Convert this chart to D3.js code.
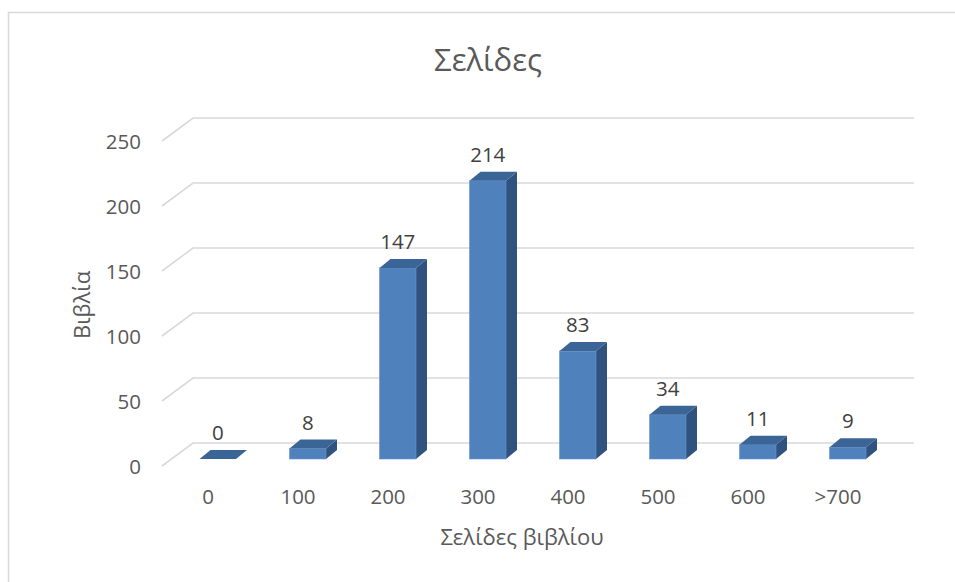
<!DOCTYPE html>
<html>
<head>
<meta charset="utf-8">
<script src="https://cdn.jsdelivr.net/npm/d3@7"></script>
<style>
  html, body { margin: 0; padding: 0; background: #fff; }
  svg { display: block; font-family: "Open Sans", "Noto Sans", sans-serif; }
</style>
</head>
<body>
<svg id="chart" width="955" height="582"></svg>
<script>
// Page counts of books, grouped in bins of 100 pages
const categories = ["0", "100", "200", "300", "400", "500", "600", ">700"];
const books = [0, 8, 147, 214, 83, 34, 11, 9];
const yTicks = [0, 50, 100, 150, 200, 250];

const chartTitle = "Σελίδες";
const xTitle = "Σελίδες βιβλίου";
const yTitle = "Βιβλία";

const svg = d3.select("#chart");

// Outer chart frame
svg.append("rect")
  .attr("x", 8.5).attr("y", 12.5)
  .attr("width", 1000).attr("height", 700)
  .attr("fill", "none").attr("stroke", "#d9d9d9").attr("stroke-width", 1.5);

// Floor levels: front edge of the floor, back wall, and the bars' base
const floorFront = 466, floorBack = 443, barBase = 459;
const wallLeft = 193, wallRight = 914, axisFront = 162;

const h = d3.scaleLinear().domain([0, 250]).range([0, 325]);
const x = d3.scaleBand().domain(categories).range([163, 883]).padding(0);

// Gridlines: slanted side segment + horizontal back-wall line
const grid = svg.append("g").attr("stroke", "#d9d9d9").attr("stroke-width", 1.6).attr("fill", "none");
yTicks.forEach(v => {
  grid.append("path")
    .attr("d", `M${axisFront},${floorFront - h(v)}L${wallLeft},${floorBack - h(v)}L${wallRight},${floorBack - h(v)}`);
});

// Y tick labels
svg.append("g").selectAll("text").data(yTicks).join("text")
  .attr("x", 141).attr("y", v => floorFront - h(v) + 1)
  .attr("dy", "0.35em")
  .attr("text-anchor", "end")
  .attr("fill", "#595959").attr("font-size", 20.5)
  .text(v => v);

// X tick labels
svg.append("g").selectAll("text").data(categories).join("text")
  .attr("x", c => x(c) + x.bandwidth() / 2).attr("y", 497)
  .attr("dy", "0.35em")
  .attr("text-anchor", "middle")
  .attr("fill", "#595959").attr("font-size", 20.5)
  .text(c => c);

// 3D bars: front face, top face, right side face
const barW = 36.5, offL = 8.5, depthX = 11, depthY = 9;
const colFront = "#4f81bd", colTop = "#3b6597", colSide = "#30527f";
const bars = svg.append("g");
categories.forEach((c, i) => {
  const v = books[i];
  const x0 = x(c) + x.bandwidth() / 2 - offL;
  const x1 = x0 + barW;
  const yTop = barBase - h(v);
  const g = bars.append("g");
  if (v > 0) {
    g.append("path")
      .attr("d", `M${x1},${barBase}L${x1 + depthX},${barBase - depthY}L${x1 + depthX},${yTop - depthY}L${x1},${yTop}Z`)
      .attr("fill", colSide);
    g.append("rect")
      .attr("x", x0).attr("y", yTop).attr("width", barW).attr("height", h(v))
      .attr("fill", colFront).attr("stroke", "#6a95cc").attr("stroke-width", 0.6);
  }
  g.append("path")
    .attr("d", `M${x0},${yTop}L${x0 + depthX},${yTop - depthY}L${x1 + depthX},${yTop - depthY}L${x1},${yTop}Z`)
    .attr("fill", colTop);
});

// Value labels above bars
svg.append("g").selectAll("text").data(categories).join("text")
  .attr("x", c => x(c) + x.bandwidth() / 2 - offL + barW / 2)
  .attr("y", (c, i) => barBase - h(books[i]) - depthY - 17)
  .attr("dy", "0.35em")
  .attr("text-anchor", "middle")
  .attr("fill", "#404040").attr("font-size", 20.5)
  .text((c, i) => books[i]);

// Titles
svg.append("text")
  .attr("x", 488).attr("y", 60).attr("dy", "0.35em")
  .attr("text-anchor", "middle")
  .attr("fill", "#595959").attr("font-size", 31)
  .text(chartTitle);

svg.append("text")
  .attr("x", 522).attr("y", 537).attr("dy", "0.35em")
  .attr("text-anchor", "middle")
  .attr("fill", "#595959").attr("font-size", 22)
  .text(xTitle);

svg.append("text")
  .attr("transform", "translate(82,305) rotate(-90)")
  .attr("dy", "0.35em")
  .attr("text-anchor", "middle")
  .attr("fill", "#595959").attr("font-size", 22)
  .text(yTitle);
</script>
</body>
</html>
